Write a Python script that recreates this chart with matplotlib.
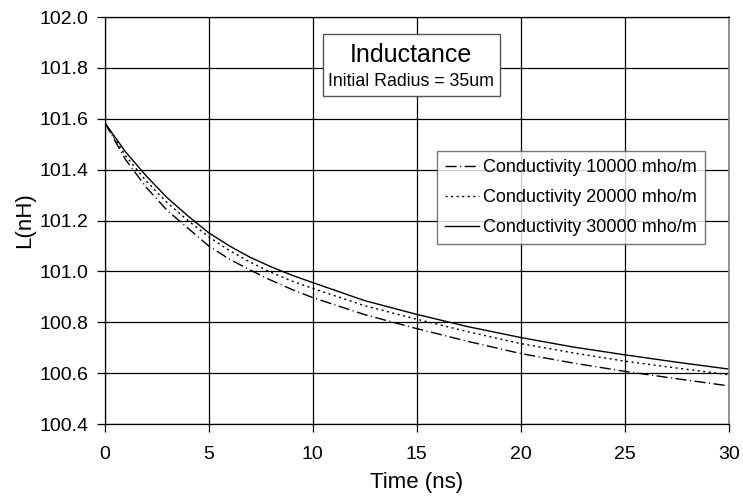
import matplotlib.pyplot as plt

plt.rcParams['font.family'] = ['Liberation Sans', 'DejaVu Sans']

# Time axis (ns) and inductance readings (nH) for each conductivity
time_ns = [0, 1, 2, 3, 4, 5, 6, 7, 8, 9, 10, 12.5, 15, 17.5, 20, 22.5, 25, 27.5, 30]
L_10000 = [101.585, 101.44, 101.33, 101.24, 101.17, 101.10, 101.048, 101.005, 100.965,
           100.929, 100.897, 100.83, 100.775, 100.724, 100.677, 100.64, 100.607, 100.578, 100.55]
L_20000 = [101.585, 101.455, 101.355, 101.27, 101.20, 101.136, 101.082, 101.036, 100.996,
           100.962, 100.933, 100.865, 100.812, 100.762, 100.716, 100.68, 100.647, 100.62, 100.594]
L_30000 = [101.585, 101.47, 101.375, 101.29, 101.218, 101.152, 101.10, 101.055, 101.018,
           100.985, 100.956, 100.885, 100.831, 100.782, 100.74, 100.703, 100.672, 100.643, 100.616]

labels = ['Conductivity 10000 mho/m', 'Conductivity 20000 mho/m', 'Conductivity 30000 mho/m']

fig = plt.figure(figsize=(7.43, 4.99), dpi=100)
ax = fig.add_axes([0.1409, 0.1503, 0.8398, 0.8156])

ax.plot(time_ns, L_10000, color='black', lw=1.0, linestyle=(0, (8, 2.5, 0.8, 2.5)), label=labels[0])
ax.plot(time_ns, L_20000, color='black', lw=1.0, linestyle=(0, (1.5, 2.5)), label=labels[1])
ax.plot(time_ns, L_30000, color='black', lw=1.0, linestyle='-', label=labels[2])

ax.set_xlim(0, 30)
ax.set_ylim(100.4, 102.0)
ax.set_xticks(range(0, 31, 5))
ax.set_yticks([100.4 + 0.2 * i for i in range(9)])
ax.set_yticklabels([f'{100.4 + 0.2 * i:.1f}' for i in range(9)])
ax.grid(True, color='black', lw=0.9)
ax.tick_params(direction='out', length=5.5, width=0.9, labelsize=14, colors='black')
ax.tick_params(axis='y', pad=6.5)
ax.tick_params(axis='x', pad=10)
ax.set_axisbelow(True)

for side in ['left', 'bottom', 'top']:
    ax.spines[side].set_color('black')
    ax.spines[side].set_linewidth(0.9)
ax.spines['right'].set_color('#808080')
ax.spines['right'].set_linewidth(1.2)

ax.set_xlabel('Time (ns)', fontsize=16, labelpad=7)
ax.set_ylabel('L(nH)', fontsize=16, labelpad=3)

# title box
ax.text(0.491, 0.906, 'Inductance', transform=ax.transAxes, ha='center', va='center', fontsize=18)
ax.text(0.491, 0.842, 'Initial Radius = 35um', transform=ax.transAxes, ha='center', va='center', fontsize=12.8)
box = plt.Rectangle((0.35, 0.806), 0.284, 0.152, transform=ax.transAxes, fill=True,
                    facecolor='white', edgecolor='#555555', lw=1.0, zorder=2)
ax.add_patch(box)

leg = ax.legend(loc='upper left', bbox_to_anchor=(0.532, 0.6715), frameon=True, fancybox=False,
                edgecolor='#555555', fontsize=13, handlelength=1.9, handletextpad=0.2,
                borderpad=0.45, labelspacing=0.72, borderaxespad=0)
leg.get_frame().set_linewidth(1.0)

fig.savefig('out.png', dpi=100)
